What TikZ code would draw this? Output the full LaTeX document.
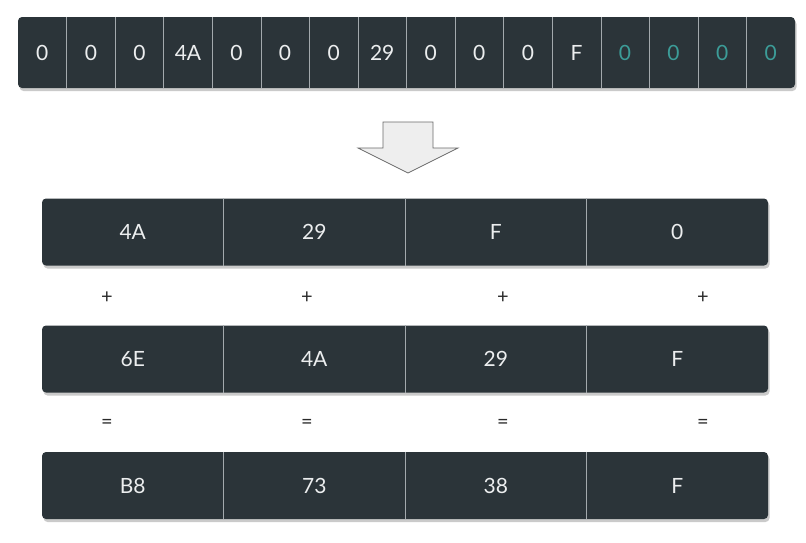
\documentclass[tikz,border=0pt]{standalone}
\usepackage{fontspec}
\setmainfont{Lato}
\usetikzlibrary{positioning, shadows}

\definecolor{barbg}{HTML}{2B3439}
\definecolor{cellsep}{HTML}{A3A9AD}
\definecolor{celltext}{HTML}{ECEEEF}
\definecolor{padtext}{HTML}{3C9C98}
\definecolor{arrowfill}{HTML}{EEEEEE}
\definecolor{arrowline}{HTML}{6A6A6A}
\definecolor{optext}{HTML}{2A2A2A}

\begin{document}
\begin{tikzpicture}[
    x=1pt, y=-1pt,
    every node/.style={font=\fontsize{21}{24}\selectfont},
    bar/.style={fill=barbg, rounded corners=4pt,
        drop shadow={shadow xshift=1.5pt, shadow yshift=-3pt, opacity=0.35, fill=black!60}},
    cell/.style={minimum width=48.56pt, minimum height=71pt, inner sep=0pt, text=celltext},
    wide/.style={cell, minimum width=181.5pt, minimum height=67pt},
    sep/.style={draw=cellsep, line width=0.8pt},
    op/.style={text=optext, font=\fontsize{20}{22}\selectfont}
]
\useasboundingbox (0,0) rectangle (806,542);

% ============ PADDED INPUT (TOP) ============
\fill[bar] (18,17) rectangle (795,88);
\foreach \v [count=\i] in {0,0,0,4A,0,0,0,29,0,0,0,F,0,0,0,0} {
    \ifnum\i>12
        \node[cell, text=padtext] (t\i) at ({18+48.56*(\i-0.5)}, 52.5) {\v};
    \else
        \node[cell] (t\i) at ({18+48.56*(\i-0.5)}, 52.5) {\v};
    \fi
}
\foreach \i in {1,...,15}
    \draw[sep] (t\i.north east) -- (t\i.south east);

% Down arrow
\draw[fill=arrowfill, draw=arrowline, line width=0.7pt]
    (383,122) -- (433,122) -- (433,148) -- (458,148) -- (408,173)
    -- (358,148) -- (383,148) -- cycle;

% ============ ROWS (BOTTOM) ============
\foreach \row/\y/\vals in {a/232/{4A,29,F,0}, b/359/{6E,4A,29,F}, c/485.5/{B8,73,38,F}} {
    \fill[bar] (42,\y-33.5) rectangle (768,\y+33.5);
    \foreach \v [count=\i] in \vals
        \node[wide] (\row\i) at ({42+181.5*(\i-0.5)}, \y) {\v};
    \foreach \i in {1,2,3}
        \draw[sep] (\row\i.north east) -- (\row\i.south east);
}

% Operators
\foreach \x [count=\i] in {107,307,503,703} {
    \node[op] (plus\i) at (\x,298) {+};
    \node[op] (eq\i) at (\x,424) {=};
}

\end{tikzpicture}
\end{document}
